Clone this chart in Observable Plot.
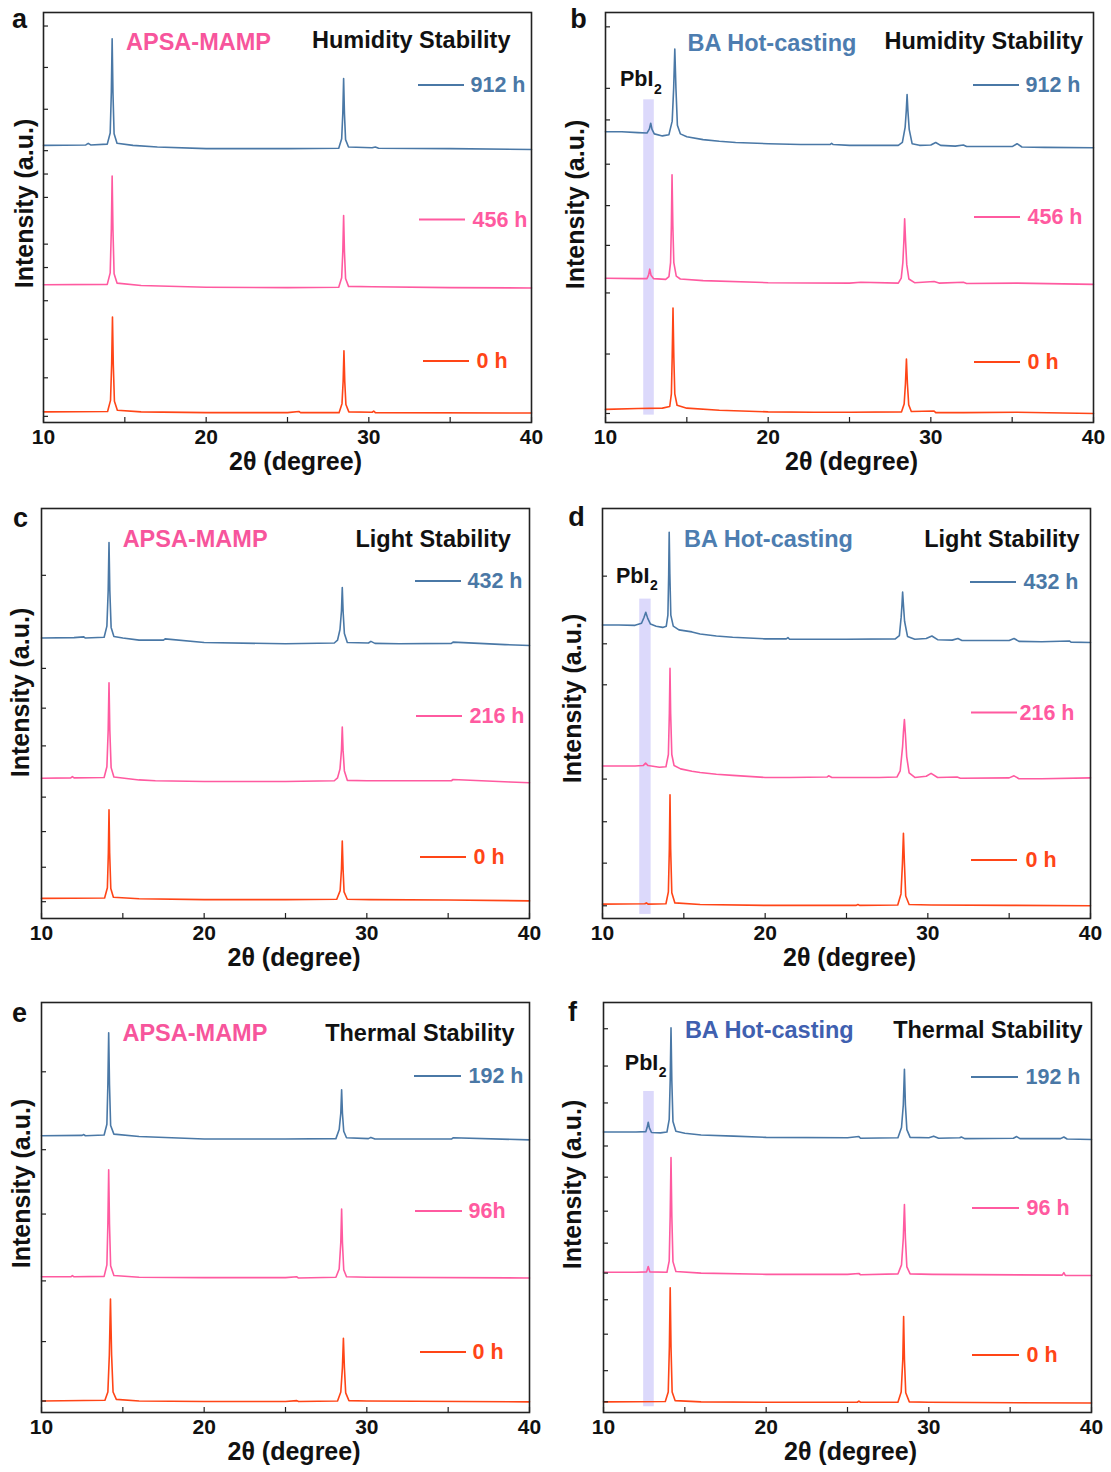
<!DOCTYPE html>
<html>
<head>
<meta charset="utf-8">
<script src="https://cdn.jsdelivr.net/npm/d3@7"></script>
<script src="https://cdn.jsdelivr.net/npm/@observablehq/plot@0.6"></script>
<style>
  html, body { margin: 0; padding: 0; background: #fff; }
  body { width: 1111px; height: 1472px; overflow: hidden; position: relative; }
  .panel { position: absolute; width: 556px; height: 490px; }
  .panel svg { overflow: visible; max-width: none !important; display: block; }
</style>
</head>
<body>
<div id="root"></div>
<script>
// ---------------- DATA ----------------
const panelLetters = ["a", "b", "c", "d", "e", "f"];
const sampleNames = ["APSA-MAMP", "BA Hot-casting", "APSA-MAMP", "BA Hot-casting", "APSA-MAMP", "BA Hot-casting"];
const conditions = ["Humidity Stability", "Humidity Stability", "Light Stability", "Light Stability", "Thermal Stability", "Thermal Stability"];
const timeLabels = [
  ["912 h", "456 h", "0 h"],
  ["912 h", "456 h", "0 h"],
  ["432 h", "216 h", "0 h"],
  ["432 h", "216 h", "0 h"],
  ["192 h", "96h", "0 h"],
  ["192 h", "96 h", "0 h"]
];
const xTickLabels = [10, 20, 30, 40];
const xMinorTicks = [10, 15, 20, 25, 30, 35, 40];
const xLabel = "2θ (degree)";
const yLabel = "Intensity (a.u.)";
const pbi2Label = ["PbI", "2"];
// unlabeled inward y ticks (% of frame height)
const yTicksA = [96.7, 86.6, 76.4, 66.3, 60.6, 54.9, 43.5, 37.8, 29.7, 20.3, 10.9, 1.5];
const yTicksB = [96.5, 81.5, 73.8, 63, 52.9, 43.2, 31.6, 16.7, 2.2];
const yTicksC = [83.7, 61, 51.3, 42.1, 29.6, 21.2, 12.5, 4.1];
const yTicksD = [83.5, 67, 57, 34, 23.6, 13.5, 3.1];
const yTicksE = [83.1, 64.1, 48.4, 32.1, 17.3, 2.8];
const yTicksF = [93.6, 84.5, 75.5, 65, 57.4, 49.1, 41.3, 34, 27.5, 19.1, 10.2, 2.6];
// PbI2 highlight bands [x1, x2, y1, y2]
const bandB = [12.35, 13.0, 1.8, 78.7];
const bandD = [12.29, 12.99, 1.0, 77.9];
const bandF = [12.47, 13.12, 1.4, 78.3];

// XRD traces: [2θ, intensity (stacked, % of frame)]
const a912 = [[10,67.6],[12.6,67.7],[12.75,68.1],[12.9,67.7],[13.92,67.9],[14.1,70.6],[14.17,80.5],[14.22,93.6],[14.27,80.5],[14.34,70.4],[14.52,68.1],[15.5,67.6],[17,67.2],[20,66.8],[25,66.8],[28.15,66.9],[28.33,69.2],[28.4,75.4],[28.45,83.9],[28.5,75.4],[28.57,69],[28.75,67.2],[30.2,67],[30.4,67.2],[30.6,66.9],[35,66.8],[40,66.6]];
const a456 = [[10,33.6],[13.92,33.7],[14.1,36.5],[14.17,47],[14.22,60.1],[14.27,47],[14.34,36.3],[14.52,34],[16,33.4],[20,33],[25,32.9],[28.15,33],[28.33,35.3],[28.4,41.7],[28.45,50.5],[28.5,41.7],[28.57,35.1],[28.75,33.2],[30.2,33.1],[35,32.9],[40,32.8]];
const a0 = [[10,2.6],[13.94,2.7],[14.12,5.4],[14.19,14.2],[14.24,25.7],[14.29,14.2],[14.36,5.2],[14.54,3],[16,2.6],[20,2.4],[25,2.4],[25.7,2.7],[25.8,2.4],[28.17,2.4],[28.35,4.6],[28.42,10],[28.47,17.5],[28.52,10],[28.59,4.4],[28.77,2.6],[30.2,2.5],[30.3,2.8],[30.4,2.4],[40,2.3]];

const b912 = [[10,70.9],[11,70.9],[12,70.7],[12.55,70.6],[12.7,71.6],[12.78,73.0],[12.86,71.5],[13.0,70.4],[13.5,69.9],[13.9,70.2],[14.1,73.5],[14.19,81.5],[14.26,91.1],[14.33,81.5],[14.42,72.5],[14.6,70.4],[15,69.7],[16,69.0],[17,68.6],[18,68.3],[20,68.0],[22,67.8],[23.8,67.8],[23.9,68.1],[24,67.8],[25,67.6],[28,67.6],[28.25,68.3],[28.42,72],[28.49,76],[28.54,80],[28.59,76],[28.67,71.5],[28.85,68],[29.3,67.6],[30.0,67.7],[30.3,68.3],[30.6,67.6],[31.5,67.4],[32,67.7],[32.2,67.3],[35,67.3],[35.3,68],[35.6,67.2],[37,67.1],[40,67.0]];
const b456 = [[10,35.2],[12,35.1],[12.55,35.1],[12.65,36],[12.72,37.4],[12.8,35.9],[12.95,35.1],[13.7,34.9],[13.9,35.6],[14.0,39],[14.05,48],[14.09,60.4],[14.14,48],[14.2,39],[14.35,35.7],[14.6,35],[16,34.6],[20,34.1],[25,34.0],[25.7,34.2],[28,34.0],[28.18,35.2],[28.28,39],[28.34,44],[28.39,49.7],[28.45,44],[28.52,38.5],[28.65,35],[29,34.1],[30.2,34.4],[30.5,34],[32,34.2],[32.2,33.9],[35.3,34],[40,33.7]];
const b0 = [[10,3.2],[12,3.4],[13.5,3.5],[13.95,3.9],[14.05,7],[14.1,16],[14.15,27.9],[14.2,16],[14.26,7],[14.4,4.2],[15,3.5],[17,3.0],[20,2.6],[22.8,2.5],[25,2.5],[28.2,2.6],[28.36,4.5],[28.44,9.5],[28.5,15.5],[28.56,9.5],[28.64,4.3],[28.8,2.7],[30.2,2.8],[30.3,2.4],[32,2.4],[35.3,2.5],[40,2.2]];

const c432 = [[10,68.4],[12,68.5],[12.6,68.7],[12.7,68.4],[13.85,68.6],[14.02,71.3],[14.1,80],[14.15,91.7],[14.2,80],[14.28,71],[14.45,68.8],[15,68.4],[16,67.9],[17.5,67.9],[17.6,68.2],[20,67.3],[25,67.0],[28.0,67.2],[28.2,67.9],[28.35,70.5],[28.44,75],[28.49,80.7],[28.54,75],[28.62,69.5],[28.8,67.3],[30.1,67.2],[30.25,67.6],[30.5,67.1],[32,67.0],[35.2,67.1],[35.3,67.4],[38.5,66.8],[40,66.6]];
const c216 = [[10,34.2],[11.8,34.3],[11.9,34.6],[12,34.3],[13.85,34.4],[14.02,37],[14.1,46],[14.15,57.5],[14.2,46],[14.28,36.8],[14.45,34.5],[16,33.8],[17,33.6],[20,33.4],[25,33.4],[28,33.6],[28.2,34.3],[28.35,36.5],[28.44,41],[28.49,46.7],[28.54,41],[28.62,36],[28.8,33.7],[30,33.6],[35.2,33.6],[35.3,33.9],[38.8,33.3],[40,33.1]];
const c0 = [[10,4.9],[13.88,5.0],[14.05,7.5],[14.11,16],[14.15,26.5],[14.19,16],[14.26,7.3],[14.42,5.2],[16,4.8],[20,4.6],[25,4.6],[28.15,4.7],[28.36,6.8],[28.44,12],[28.49,18.9],[28.54,12],[28.6,6.5],[28.8,4.7],[30.2,4.6],[35,4.5],[40,4.3]];

const d432 = [[10,71.6],[11,71.6],[12,71.5],[12.4,72.0],[12.55,73.4],[12.66,74.7],[12.78,73.2],[12.95,71.8],[13.3,71.3],[13.7,71.0],[13.92,71.3],[14.02,74],[14.07,84],[14.1,94.2],[14.14,84],[14.2,74],[14.35,71.3],[14.7,70.4],[15.5,69.9],[16,69.4],[17,68.9],[18,68.6],[20,68.2],[21.3,68.2],[21.4,68.5],[21.5,68.1],[25,68.1],[28.0,68.2],[28.25,69],[28.36,73.5],[28.41,76.5],[28.45,79.6],[28.5,76.5],[28.57,72.5],[28.75,68.8],[29.2,68.1],[29.9,68.3],[30.25,68.9],[30.6,68.0],[31.5,67.9],[31.85,68.3],[32.1,67.8],[35,67.8],[35.3,68.3],[35.6,67.6],[37,67.5],[38.7,67.7],[38.8,67.4],[40,67.3]];
const d216 = [[10,37.2],[12,37.2],[12.5,37.3],[12.65,37.9],[12.8,37.3],[13.5,36.9],[13.9,37.0],[14.05,40],[14.11,50],[14.15,61.0],[14.19,50],[14.26,40],[14.4,37.3],[14.8,36.5],[15.5,35.9],[16,35.6],[17,35.2],[18,34.9],[20,34.4],[21.5,34.4],[23.8,34.5],[23.9,34.8],[24.1,34.4],[27,34.4],[28.1,34.5],[28.3,36],[28.45,42],[28.5,45.5],[28.56,48.5],[28.62,45],[28.7,39.5],[28.85,35.5],[29.2,34.4],[29.9,34.7],[30.2,35.4],[30.6,34.4],[31.8,34.5],[32,34.2],[35,34.3],[35.3,34.8],[35.6,34.1],[37,34.1],[40,34.3]];
const d0 = [[10,3.5],[12.6,3.6],[12.7,3.8],[12.8,3.5],[13.9,3.6],[14.05,6.5],[14.11,17],[14.15,30.2],[14.19,17],[14.26,6.3],[14.45,3.8],[16,3.4],[20,3.2],[25.6,3.2],[25.7,3.4],[25.8,3.2],[28.15,3.3],[28.35,6],[28.44,13.5],[28.5,20.8],[28.56,13.5],[28.64,5.5],[28.85,3.4],[30.2,3.3],[35,3.2],[40,3.1]];

const e192 = [[10,67.5],[12.5,67.6],[12.6,67.8],[12.7,67.5],[13.85,67.7],[14.02,70.3],[14.08,80],[14.13,92.6],[14.18,80],[14.25,70],[14.45,67.9],[16,67.3],[18,67],[20,66.7],[25,66.7],[28.1,66.8],[28.3,69],[28.4,73],[28.45,78.7],[28.5,73],[28.58,68.6],[28.75,67],[30.1,66.8],[30.25,67.1],[30.5,66.7],[35.2,66.7],[35.3,67],[40,66.5]];
const e96 = [[10,33.1],[11.8,33.1],[11.9,33.4],[12,33.1],[13.85,33.2],[14.02,36],[14.08,46],[14.13,59.2],[14.18,46],[14.25,35.8],[14.45,33.4],[16,33.0],[20,32.9],[25,32.9],[25.7,33.1],[25.8,32.8],[28.1,33],[28.3,35],[28.4,41.5],[28.45,49.6],[28.5,41.5],[28.58,34.8],[28.75,33.1],[30,33.0],[40,32.8]];
const e0 = [[10,2.8],[13.9,3.0],[14.08,5],[14.17,14],[14.24,27.7],[14.31,14],[14.4,5],[14.6,3.2],[16,2.8],[20,2.7],[25,2.7],[25.7,2.9],[25.8,2.7],[28.2,2.8],[28.4,5],[28.5,11],[28.56,18.1],[28.62,11],[28.7,4.8],[28.9,2.9],[30,2.8],[40,2.6]];

const f192 = [[10,68.4],[11,68.4],[12,68.4],[12.6,68.5],[12.68,69.5],[12.75,70.8],[12.82,69.4],[12.95,68.3],[13.5,68.2],[13.9,68.4],[14.04,71.5],[14.1,81],[14.15,93.8],[14.2,81],[14.27,71],[14.45,68.6],[15,68.1],[16,67.7],[18,67.4],[20,67.1],[25,67.0],[25.7,67.3],[25.8,66.9],[28.1,67],[28.32,69.5],[28.43,75],[28.5,83.7],[28.56,75],[28.65,69],[28.85,67.1],[30,67.0],[30.3,67.4],[30.6,66.9],[31.9,67.0],[32.0,67.2],[32.2,66.8],[35.2,66.9],[35.4,67.3],[35.6,66.8],[38.1,66.8],[38.3,67.2],[38.5,66.7],[40,66.6]];
const f96 = [[10,34.2],[12,34.2],[12.65,34.3],[12.75,35.6],[12.85,34.3],[13.9,34.2],[14.04,37],[14.1,48],[14.15,62.2],[14.2,48],[14.27,36.8],[14.45,34.4],[16,34],[20,33.7],[25,33.7],[25.7,33.9],[25.8,33.6],[28.1,33.8],[28.32,36],[28.43,42.5],[28.5,50.7],[28.56,42.5],[28.65,35.5],[28.85,33.8],[30.2,33.7],[38.2,33.5],[38.3,34.1],[38.4,33.4],[40,33.4]];
const f0 = [[10,2.6],[13.8,2.7],[13.98,5],[14.05,16],[14.1,30.4],[14.15,16],[14.22,5],[14.4,2.9],[16,2.6],[20,2.5],[25.6,2.5],[25.7,2.8],[25.8,2.5],[28.1,2.5],[28.3,5],[28.4,13],[28.45,23.4],[28.5,13],[28.58,4.8],[28.8,2.6],[30,2.5],[40,2.3]];

// ---------------- STYLE / LAYOUT ----------------
const FONT = "'Liberation Sans', Arial, Helvetica, sans-serif";
const COL = { blue: "#4a78a6", pink: "#ff5aa0", red: "#ff4517", ink: "#111" };
const SAMPLE_COL = ["#f7559c", "#4d7db0", "#f7559c", "#4d7db0", "#f7559c", "#3f60b0"];
const FRAME_W = 488, FRAME_H = 410, ML = 43, MR = 25, MT = 12, MB = 68;

const traceSets = [[a912, a456, a0], [b912, b456, b0], [c432, c216, c0], [d432, d216, d0], [e192, e96, e0], [f192, f96, f0]];
const yTickSets = [yTicksA, yTicksB, yTicksC, yTicksD, yTicksE, yTicksF];
const bands = [null, bandB, null, bandD, null, bandF];

const layout = [
  {left: 43, top: 12, letter: [-24, 7], sample: [155, 30], cond: [-21, 28], legY: [73, 207.5, 349], legL: [[375, 421], [376, 422], [380, 426]], legT: [427, 429, 433], ylab: [-19, -14], xt: 8, pbi: null},
  {left: 605, top: 12, letter: [-27, 7], sample: [166.5, 31], cond: [-10.5, 28.6], legY: [73, 205, 350], legL: [[368, 414], [369, 415], [369, 415]], legT: [420, 422, 422], ylab: [-30, -13], xt: 2, pbi: [14.5, 67, 48.5, 77]},
  {left: 41, top: 508, letter: [-21, 10], sample: [153.6, 31], cond: [-18.7, 31], legY: [73, 208, 349], legL: [[374, 420], [375, 421], [379, 425]], legT: [426, 428, 432], ylab: [-21, -21], xt: 8.5, pbi: null},
  {left: 602, top: 508, letter: [-26, 9], sample: [166, 31], cond: [-11, 31], legY: [74, 204.5, 352], legL: [[368, 414], [369, 415], [369, 415]], legT: [421, 417, 423], ylab: [-30, -15], xt: 3, pbi: [13.5, 67.6, 47.5, 77.5]},
  {left: 41, top: 1002, letter: [-22, 11], sample: [153.4, 30.6], cond: [-15, 30.6], legY: [74, 209, 350], legL: [[373, 420], [374, 421], [379, 425]], legT: [427, 427, 431], ylab: [-20, -24], xt: 8.5, pbi: null},
  {left: 603, top: 1002, letter: [-31, 10], sample: [165.8, 28], cond: [-9, 28], legY: [75, 206, 353], legL: [[368, 415], [369, 416], [369, 416]], legT: [422, 423, 423], ylab: [-30.5, -23], xt: 3, pbi: [21.3, 60.4, 55.3, 70.3]}
];

function legendSwatches(lines, ys, colors) {
  return (index, scales, values, dims) => {
    const g = d3.create("svg:g");
    lines.forEach(([x1, x2], k) => {
      g.append("line")
        .attr("x1", dims.marginLeft + x1).attr("x2", dims.marginLeft + x2)
        .attr("y1", dims.marginTop + ys[k]).attr("y2", dims.marginTop + ys[k])
        .attr("stroke", colors[k]).attr("stroke-width", 2);
    });
    return g.node();
  };
}

function txt(str, opts) {
  return Plot.text([str], {text: d => d, fontFamily: FONT, fontWeight: "bold", lineAnchor: "middle", textAnchor: "middle", ...opts});
}

function makePanel(i) {
  const L = layout[i];
  const cols = [COL.blue, COL.pink, COL.red];
  const marks = [];
  if (bands[i]) {
    marks.push(Plot.rect([bands[i]], {x1: d => d[0], x2: d => d[1], y1: d => d[2], y2: d => d[3], fill: "#dcd9fb"}));
  }
  traceSets[i].forEach((pts, k) => {
    marks.push(Plot.line(pts, {x: d => d[0], y: d => d[1], stroke: cols[k], strokeWidth: 1.6, strokeLinejoin: "round"}));
  });
  marks.push(Plot.frame({stroke: "#222", strokeWidth: 1.6}));
  marks.push(Plot.tickY(yTickSets[i], {y: d => d, insetRight: FRAME_W - 5, stroke: "#222", strokeWidth: 1.2}));
  marks.push(Plot.tickX(xMinorTicks, {x: d => d, insetTop: FRAME_H - 5, stroke: "#222", strokeWidth: 1.2}));
  marks.push(Plot.text(xTickLabels, {x: d => d, frameAnchor: "bottom", dy: 15, text: d => String(d), fontSize: 21, fontWeight: "bold", fontFamily: FONT, fill: COL.ink, lineAnchor: "middle", textAnchor: "middle"}));
  marks.push(txt(xLabel, {frameAnchor: "bottom", dx: L.xt, dy: 39, fontSize: 25, fill: COL.ink}));
  marks.push(txt(yLabel, {frameAnchor: "left", dx: L.ylab[0], dy: L.ylab[1], rotate: -90, fontSize: 25, fill: COL.ink}));
  marks.push(txt(panelLetters[i], {frameAnchor: "top-left", dx: L.letter[0], dy: L.letter[1], fontSize: 27, fill: COL.ink}));
  marks.push(txt(sampleNames[i], {frameAnchor: "top-left", dx: L.sample[0], dy: L.sample[1], fontSize: 23.5, fill: SAMPLE_COL[i]}));
  marks.push(txt(conditions[i], {frameAnchor: "top-right", dx: L.cond[0], dy: L.cond[1], fontSize: 23.5, fill: COL.ink, textAnchor: "end"}));
  marks.push(legendSwatches(L.legL, L.legY, cols));
  timeLabels[i].forEach((t, k) => {
    marks.push(txt(t, {frameAnchor: "top-left", dx: L.legT[k], dy: L.legY[k], fontSize: 21.5, fill: cols[k], textAnchor: "start"}));
  });
  if (L.pbi) {
    marks.push(txt(pbi2Label[0], {frameAnchor: "top-left", dx: L.pbi[0], dy: L.pbi[1], fontSize: 21.5, fill: COL.ink, textAnchor: "start"}));
    marks.push(txt(pbi2Label[1], {frameAnchor: "top-left", dx: L.pbi[2], dy: L.pbi[3], fontSize: 14, fill: COL.ink, textAnchor: "start"}));
  }
  const svg = Plot.plot({
    width: ML + FRAME_W + MR, height: MT + FRAME_H + MB,
    marginLeft: ML, marginRight: MR, marginTop: MT, marginBottom: MB,
    x: {domain: [10, 40], axis: null},
    y: {domain: [0, 100], axis: null},
    style: {fontFamily: FONT, background: "transparent", overflow: "visible", maxWidth: "none"},
    marks
  });
  const div = document.createElement("div");
  div.className = "panel";
  div.style.left = (L.left - ML) + "px";
  div.style.top = (L.top - MT) + "px";
  div.appendChild(svg);
  return div;
}

const root = document.getElementById("root");
for (let i = 0; i < 6; i++) root.appendChild(makePanel(i));
</script>
</body>
</html>
